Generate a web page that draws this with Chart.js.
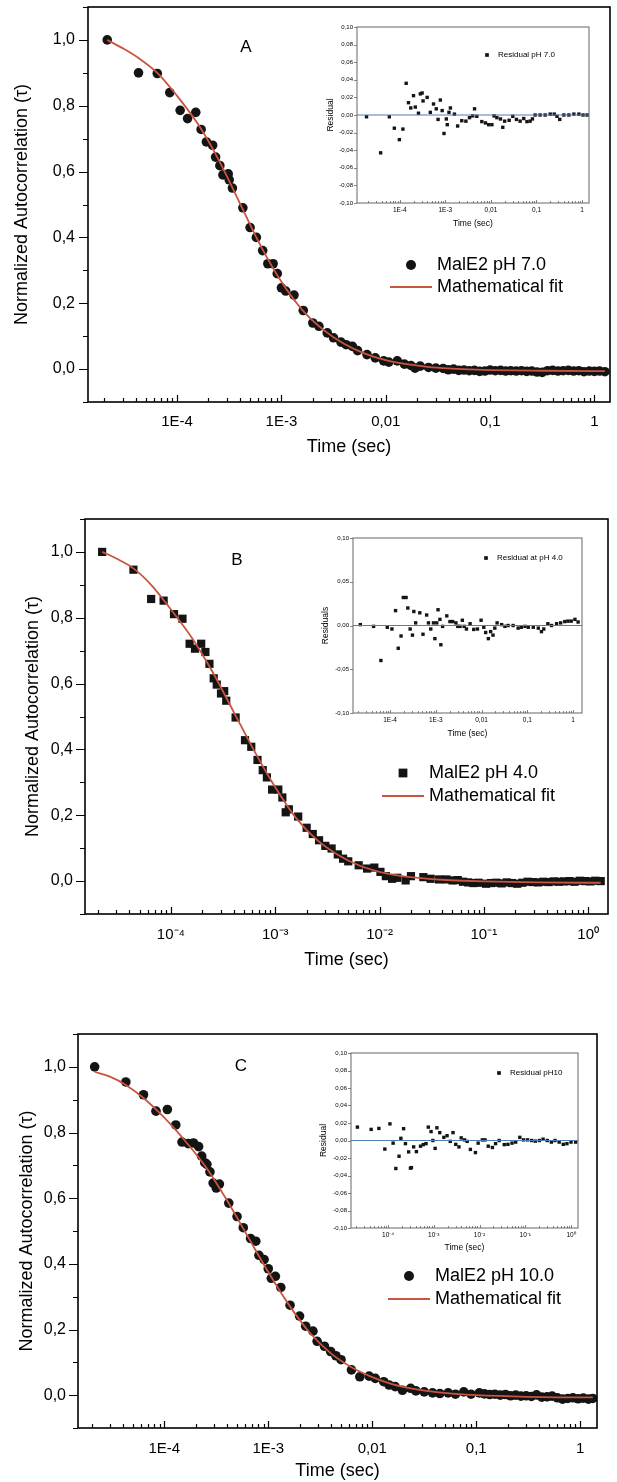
<!DOCTYPE html>
<html>
<head>
<meta charset="utf-8">
<script src="https://cdn.jsdelivr.net/npm/chart.js@4.4.1/dist/chart.umd.min.js"></script>
<style>
  html, body { margin: 0; padding: 0; background: #fff; }
  body { width: 617px; height: 1482px; position: relative; overflow: hidden; }
  canvas { position: absolute; }
</style>
</head>
<body>
<canvas id="mainA"></canvas>
<canvas id="insetA"></canvas>
<canvas id="mainB"></canvas>
<canvas id="insetB"></canvas>
<canvas id="mainC"></canvas>
<canvas id="insetC"></canvas>
<script>
// ========================
//    data
// ========================

// --- A : MalE2 pH 7.0 ---
const timeA = [2.14e-5, 4.27e-5, 6.46e-5, 8.51e-5, 1.07e-4, 1.26e-4, 1.51e-4, 1.70e-4, 1.91e-4, 2.19e-4,
  2.34e-4, 2.57e-4, 2.75e-4, 3.09e-4, 3.16e-4, 3.39e-4, 4.27e-4, 5.01e-4, 5.75e-4, 6.61e-4,
  7.41e-4, 8.32e-4, 9.12e-4, 1.0e-3, 1.10e-3, 1.32e-3, 1.62e-3, 2.0e-3, 2.29e-3, 2.75e-3,
  3.16e-3, 3.72e-3, 4.17e-3, 4.79e-3, 5.37e-3, 6.61e-3, 7.94e-3, 9.55e-3, 1.07e-2, 1.29e-2,
  1.51e-2, 1.74e-2, 1.91e-2, 2.14e-2, 2.57e-2, 3.02e-2, 3.55e-2, 3.98e-2, 4.47e-2, 5.01e-2,
  5.62e-2, 6.31e-2, 7.08e-2, 7.94e-2, 8.91e-2, 0.1, 0.112, 0.126, 0.141, 0.158,
  0.178, 0.2, 0.224, 0.251, 0.282, 0.316, 0.355, 0.398, 0.447, 0.501,
  0.562, 0.631, 0.708, 0.794, 0.891, 1.0, 1.12, 1.26];
const corrA = [1.0, 0.90, 0.898, 0.84, 0.786, 0.761, 0.78, 0.728, 0.69, 0.68,
  0.644, 0.618, 0.59, 0.593, 0.575, 0.55, 0.49, 0.43, 0.40, 0.36,
  0.32, 0.32, 0.29, 0.247, 0.237, 0.225, 0.178, 0.14, 0.13, 0.11,
  0.095, 0.082, 0.074, 0.069, 0.056, 0.044, 0.034, 0.025, 0.021, 0.025,
  0.015, 0.011, 0.003, 0.009, 0.005, 0.003, 0.002, -0.002, 0.0, -0.004,
  -0.003, -0.005, -0.004, -0.007, -0.006, -0.003, -0.005, -0.004, -0.006, -0.005,
  -0.006, -0.005, -0.007, -0.006, -0.009, -0.010, -0.005, -0.004, -0.006, -0.005,
  -0.004, -0.006, -0.005, -0.008, -0.006, -0.007, -0.006, -0.008];
const fitTimeA = [2.14e-5, 3e-5, 4.27e-5, 6.46e-5, 1e-4, 1.58e-4, 2.51e-4, 3.98e-4, 6.31e-4, 1e-3,
  1.58e-3, 2.51e-3, 3.98e-3, 6.31e-3, 1e-2, 1.58e-2, 2.51e-2, 3.98e-2, 6.31e-2, 0.1, 0.316, 1, 1.26];
const fitA = [1.0, 0.975, 0.945, 0.90, 0.83, 0.745, 0.635, 0.505, 0.375, 0.265,
  0.18, 0.12, 0.077, 0.047, 0.027, 0.015, 0.007, 0.002, -0.001, -0.003, -0.005, -0.006, -0.006];
const resTimeA = [1.86e-5, 3.80e-5, 5.89e-5, 7.59e-5, 9.77e-5, 1.17e-4, 1.38e-4, 1.55e-4, 1.74e-4, 2.0e-4,
  2.19e-4, 2.57e-4, 2.82e-4, 3.09e-4, 3.24e-4, 3.98e-4, 4.68e-4, 5.50e-4, 6.31e-4, 6.92e-4,
  7.76e-4, 8.51e-4, 9.33e-4, 1.05e-3, 1.10e-3, 1.20e-3, 1.29e-3, 1.58e-3, 1.86e-3, 2.29e-3,
  2.82e-3, 3.39e-3, 3.98e-3, 4.37e-3, 4.90e-3, 6.31e-3, 7.59e-3, 8.91e-3, 1.05e-2, 1.17e-2,
  1.35e-2, 1.62e-2, 1.82e-2, 2.0e-2, 2.51e-2, 3.02e-2, 3.63e-2, 4.37e-2, 5.25e-2, 6.17e-2,
  7.24e-2, 8.13e-2, 9.33e-2, 0.120, 0.155, 0.200, 0.245, 0.282, 0.324, 0.398,
  0.513, 0.661, 0.851, 1.05, 1.29];
const resA = [-0.002, -0.043, -0.002, -0.015, -0.028, -0.016, 0.036, 0.014, 0.008, 0.022,
  0.009, 0.002, 0.024, 0.025, 0.016, 0.020, 0.003, 0.0125, 0.007, -0.005,
  0.017, 0.005, -0.021, -0.0045, -0.011, 0.003, 0.008, 0.001, -0.0125, -0.0065,
  -0.007, -0.003, -0.001, 0.007, -0.0015, -0.0075, -0.009, -0.011, -0.011, -0.001,
  -0.003, -0.0045, -0.014, -0.007, -0.006, -0.0015, -0.005, -0.007, -0.004, -0.0075,
  -0.007, -0.0045, 0.0, 0.0, 0.0, 0.001, 0.001, -0.0015, -0.005, 0.0,
  0.0, 0.001, 0.001, 0.0, 0.0];

// --- B : MalE2 pH 4.0 ---
const timeB = [2.19e-5, 4.37e-5, 6.46e-5, 8.51e-5, 1.07e-4, 1.29e-4, 1.51e-4, 1.70e-4, 1.95e-4, 2.14e-4,
  2.34e-4, 2.57e-4, 2.75e-4, 3.02e-4, 3.24e-4, 3.39e-4, 4.17e-4, 5.13e-4, 5.89e-4, 6.76e-4,
  7.59e-4, 8.32e-4, 9.33e-4, 1.07e-3, 1.17e-3, 1.26e-3, 1.35e-3, 1.66e-3, 2.0e-3, 2.29e-3,
  2.63e-3, 3.02e-3, 3.47e-3, 3.98e-3, 4.47e-3, 5.01e-3, 6.31e-3, 7.59e-3, 8.91e-3, 1.02e-2,
  1.15e-2, 1.32e-2, 1.48e-2, 1.78e-2, 2.0e-2, 2.63e-2, 3.09e-2, 3.72e-2, 4.37e-2, 5.01e-2,
  5.62e-2, 6.31e-2, 7.08e-2, 7.94e-2, 8.91e-2, 0.105, 0.117, 0.132, 0.148, 0.166,
  0.186, 0.209, 0.234, 0.263, 0.295, 0.331, 0.372, 0.417, 0.468, 0.525,
  0.589, 0.661, 0.741, 0.832, 0.933, 1.05, 1.17, 1.32];
const corrB = [1.0, 0.946, 0.857, 0.852, 0.811, 0.797, 0.721, 0.706, 0.721, 0.696,
  0.66, 0.616, 0.597, 0.57, 0.577, 0.548, 0.497, 0.428, 0.408, 0.368,
  0.337, 0.315, 0.278, 0.278, 0.254, 0.209, 0.218, 0.196, 0.162, 0.143,
  0.124, 0.107, 0.099, 0.081, 0.068, 0.06, 0.048, 0.038, 0.041, 0.028,
  0.015, 0.007, 0.010, 0.002, 0.015, 0.012, 0.007, 0.005, 0.005, 0.002,
  0.003, -0.002, -0.004, -0.006, -0.005, -0.008, -0.006, -0.005, -0.007, -0.004,
  -0.006, -0.008, -0.005, -0.002, -0.003, -0.004, -0.002, -0.003, -0.001, -0.002,
  -0.001, 0.0, -0.002, 0.001, 0.0, -0.001, 0.001, 0.0];
const fitTimeB = [2.19e-5, 3e-5, 4.37e-5, 6.46e-5, 1e-4, 1.58e-4, 2.51e-4, 3.98e-4, 6.31e-4, 1e-3,
  1.58e-3, 2.51e-3, 3.98e-3, 6.31e-3, 1e-2, 1.58e-2, 2.51e-2, 3.98e-2, 6.31e-2, 0.1, 0.316, 1, 1.32];
const fitB = [1.0, 0.98, 0.95, 0.90, 0.825, 0.74, 0.635, 0.515, 0.395, 0.285,
  0.192, 0.125, 0.080, 0.048, 0.028, 0.016, 0.009, 0.004, 0.001, -0.001, -0.004, -0.005, -0.005];
const resTimeB = [2.24e-5, 4.37e-5, 6.31e-5, 8.71e-5, 1.10e-4, 1.32e-4, 1.51e-4, 1.74e-4, 1.95e-4, 2.24e-4,
  2.45e-4, 2.75e-4, 3.09e-4, 3.31e-4, 3.63e-4, 4.47e-4, 5.25e-4, 6.31e-4, 6.92e-4, 7.76e-4,
  8.91e-4, 9.55e-4, 1.05e-3, 1.12e-3, 1.23e-3, 1.29e-3, 1.41e-3, 1.74e-3, 2.04e-3, 2.34e-3,
  2.75e-3, 3.02e-3, 3.39e-3, 3.80e-3, 4.17e-3, 4.68e-3, 5.62e-3, 6.76e-3, 8.13e-3, 9.77e-3,
  1.12e-2, 1.23e-2, 1.41e-2, 1.58e-2, 1.78e-2, 1.95e-2, 2.19e-2, 2.75e-2, 3.24e-2, 3.80e-2,
  4.90e-2, 6.31e-2, 7.41e-2, 8.91e-2, 0.105, 0.135, 0.174, 0.204, 0.229, 0.282,
  0.339, 0.437, 0.537, 0.661, 0.776, 0.912, 1.10, 1.29];
const resB = [0.001, -0.001, -0.04, -0.002, -0.004, 0.017, -0.026, -0.012, 0.032, 0.032,
  0.02, -0.004, -0.011, 0.016, 0.003, 0.0145, -0.01, 0.012, 0.003, -0.004,
  0.003, -0.015, 0.003, 0.018, 0.007, -0.022, -0.001, 0.011, 0.0045, 0.0045,
  0.003, -0.001, -0.001, 0.006, -0.001, -0.004, 0.002, -0.0045, -0.004, 0.006,
  -0.002, -0.008, -0.015, -0.007, -0.011, -0.003, 0.003, 0.001, -0.001, 0.0,
  0.0, -0.003, -0.002, -0.001, -0.002, -0.002, -0.003, -0.007, -0.004, 0.002,
  0.0, 0.002, 0.003, 0.0045, 0.005, 0.005, 0.007, 0.004];

// --- C : MalE2 pH 10.0 ---
const timeC = [2.14e-5, 4.27e-5, 6.31e-5, 8.32e-5, 1.07e-4, 1.29e-4, 1.48e-4, 1.70e-4, 1.91e-4, 2.14e-4,
  2.29e-4, 2.45e-4, 2.57e-4, 2.75e-4, 2.95e-4, 3.16e-4, 3.39e-4, 4.17e-4, 5.01e-4, 5.75e-4,
  6.76e-4, 7.59e-4, 8.13e-4, 9.12e-4, 1.0e-3, 1.07e-3, 1.17e-3, 1.32e-3, 1.62e-3, 2.0e-3,
  2.29e-3, 2.69e-3, 2.95e-3, 3.47e-3, 3.98e-3, 4.47e-3, 5.01e-3, 6.31e-3, 7.59e-3, 9.33e-3,
  1.07e-2, 1.29e-2, 1.45e-2, 1.66e-2, 1.95e-2, 2.34e-2, 2.63e-2, 3.16e-2, 3.80e-2, 4.47e-2,
  5.37e-2, 6.31e-2, 7.59e-2, 8.91e-2, 0.107, 0.120, 0.135, 0.151, 0.170, 0.191,
  0.214, 0.240, 0.269, 0.302, 0.339, 0.380, 0.427, 0.479, 0.537, 0.603,
  0.676, 0.759, 0.851, 0.955, 1.07, 1.20, 1.32];
const corrC = [1.0, 0.954, 0.915, 0.865, 0.87, 0.823, 0.771, 0.766, 0.768, 0.757,
  0.728, 0.708, 0.703, 0.68, 0.646, 0.631, 0.643, 0.585, 0.544, 0.51,
  0.477, 0.469, 0.426, 0.413, 0.385, 0.356, 0.362, 0.328, 0.274, 0.241,
  0.21, 0.195, 0.164, 0.149, 0.133, 0.12, 0.108, 0.077, 0.056, 0.058,
  0.051, 0.041, 0.031, 0.026, 0.015, 0.021, 0.013, 0.010, 0.007, 0.005,
  0.007, 0.003, 0.010, 0.003, 0.007, 0.004, 0.002, 0.003, 0.0, 0.002,
  -0.002, 0.0, -0.003, -0.002, -0.004, 0.001, -0.006, -0.005, -0.003, -0.008,
  -0.012, -0.010, -0.008, -0.011, -0.009, -0.012, -0.010];
const fitTimeC = [2.14e-5, 3e-5, 4.27e-5, 6.31e-5, 1e-4, 1.58e-4, 2.51e-4, 3.98e-4, 6.31e-4, 1e-3,
  1.58e-3, 2.51e-3, 3.98e-3, 6.31e-3, 1e-2, 1.58e-2, 2.51e-2, 3.98e-2, 6.31e-2, 0.1, 0.316, 1, 1.32];
const fitC = [0.985, 0.97, 0.945, 0.905, 0.845, 0.775, 0.695, 0.595, 0.485, 0.375,
  0.275, 0.19, 0.128, 0.085, 0.055, 0.033, 0.019, 0.010, 0.004, 0.0, -0.005, -0.007, -0.007];
const resTimeC = [2.14e-5, 4.27e-5, 6.31e-5, 8.51e-5, 1.10e-4, 1.29e-4, 1.48e-4, 1.74e-4, 1.91e-4, 2.19e-4,
  2.40e-4, 2.82e-4, 3.09e-4, 3.24e-4, 3.63e-4, 4.17e-4, 5.13e-4, 5.89e-4, 6.76e-4, 7.59e-4,
  8.71e-4, 9.55e-4, 1.07e-3, 1.17e-3, 1.35e-3, 1.66e-3, 1.95e-3, 2.29e-3, 2.63e-3, 3.02e-3,
  3.55e-3, 3.98e-3, 4.68e-3, 5.37e-3, 6.31e-3, 8.13e-3, 9.33e-3, 1.15e-2, 1.32e-2, 1.55e-2,
  1.91e-2, 2.24e-2, 2.69e-2, 3.47e-2, 4.17e-2, 5.13e-2, 6.17e-2, 7.59e-2, 9.12e-2, 0.112,
  0.138, 0.166, 0.204, 0.245, 0.302, 0.372, 0.447, 0.550, 0.676, 0.813,
  1.0, 1.26];
const resC = [0.0153, 0.0127, 0.0138, -0.0098, 0.019, -0.003, -0.032, -0.018, 0.0025, 0.0135,
  -0.0036, -0.013, -0.0316, -0.031, -0.0073, -0.0127, -0.0065, -0.0047, -0.0036, 0.0153,
  0.0102, 0.0, -0.009, 0.0145, 0.009, 0.0036, 0.0055, -0.001, 0.009, -0.0044,
  -0.0073, 0.003, 0.0007, -0.001, -0.0102, -0.0138, -0.003, 0.0007, 0.0007, -0.0065,
  -0.008, -0.0036, 0.0, -0.0047, -0.0044, -0.003, -0.0018, 0.0036, 0.0007, 0.0007,
  0.0, -0.0007, 0.0, 0.0015, 0.0, -0.0018, 0.0, -0.0018, -0.0044, -0.0036,
  -0.0018, -0.0018];

// --- ticks ---
const corrTickValues = [0, 0.2, 0.4, 0.6, 0.8, 1.0];
const corrTickLabels = ['0,0', '0,2', '0,4', '0,6', '0,8', '1,0'];
const timeDecades = [1e-4, 1e-3, 1e-2, 1e-1, 1];
const timeLabelsE = ['1E-4', '1E-3', '0,01', '0,1', '1'];
const timeLabelsPow = ['10⁻⁴', '10⁻³', '10⁻²', '10⁻¹', '10⁰'];
const resTickValues = [-0.10, -0.08, -0.06, -0.04, -0.02, 0, 0.02, 0.04, 0.06, 0.08, 0.10];
const resTickLabels = ['-0,10', '-0,08', '-0,06', '-0,04', '-0,02', '0,00', '0,02', '0,04', '0,06', '0,08', '0,10'];
const resTickValuesB = [-0.10, -0.05, 0, 0.05, 0.10];
const resTickLabelsB = ['-0,10', '-0,05', '0,00', '0,05', '0,10'];

// =========================
//   helpers
// =========================
const FONT = "'Liberation Sans', Arial, sans-serif";
const RED = '#c9553f';
const INK = '#141414';

const toPoints = (xs, ys) => xs.map((x, i) => ({ x, y: ys[i] }));

function labelFrom(values, labels) {
  return v => {
    const i = values.findIndex(t => Math.abs(t - v) <= Math.abs(t) * 1e-6 + 1e-9);
    return i < 0 ? '' : labels[i];
  };
}

// 1..9 x 10^k between min and max
function logTicks(scale) {
  const out = [];
  const k0 = Math.floor(Math.log10(scale.min));
  const k1 = Math.floor(Math.log10(scale.max));
  for (let k = k0; k <= k1; k++) {
    for (let n = 1; n < 10; n++) {
      const v = Number((n * Math.pow(10, k)).toPrecision(6));
      if (v >= scale.min && v <= scale.max) out.push({ value: v });
    }
  }
  scale.ticks = out;
}

// fixed axis box, and no extra room for half labels at the ends
function fixBox(size, horizontal) {
  return s => {
    if (horizontal) s.height = size; else s.width = size;
    s.paddingTop = 0; s.paddingBottom = 0; s.paddingLeft = 0; s.paddingRight = 0;
  };
}

function place(cv, b) {
  cv.width = b.w; cv.height = b.h;
  cv.style.left = b.left + 'px'; cv.style.top = b.top + 'px';
  cv.style.width = b.w + 'px'; cv.style.height = b.h + 'px';
}

// frame, tick marks (x inward, y outward), zero line for residuals
const frameTicks = {
  id: 'frameTicks',
  afterDraw(chart, args, o) {
    const { ctx, chartArea: a, scales } = chart;
    ctx.save();
    if (o.zero) {
      const y0 = scales.y.getPixelForValue(0);
      ctx.strokeStyle = o.zero; ctx.lineWidth = 1;
      ctx.beginPath(); ctx.moveTo(a.left, y0); ctx.lineTo(a.right, y0); ctx.stroke();
    }
    ctx.strokeStyle = o.color;
    ctx.lineWidth = o.width;
    ctx.strokeRect(a.left, a.top, a.right - a.left, a.bottom - a.top);
    ctx.lineWidth = o.tickWidth;
    ctx.beginPath();
    scales.x.ticks.forEach(t => {
      const px = Math.round(scales.x.getPixelForValue(t.value)) + 0.5;
      const len = t.label ? o.major : o.minor;
      ctx.moveTo(px, a.bottom); ctx.lineTo(px, a.bottom - len);
    });
    scales.y.ticks.forEach(t => {
      const py = Math.round(scales.y.getPixelForValue(t.value)) + 0.5;
      const len = t.label ? o.yMajor : o.yMinor;
      ctx.moveTo(a.left, py); ctx.lineTo(a.left - len, py);
    });
    ctx.stroke();
    ctx.restore();
  }
};

// legend rows + panel letter
const keyBox = {
  id: 'keyBox',
  afterDraw(chart, args, o) {
    const ctx = chart.ctx;
    ctx.save();
    ctx.font = o.font;
    ctx.textBaseline = 'middle';
    o.rows.forEach((di, i) => {
      const ds = chart.data.datasets[di];
      const y = o.y + i * o.gap;
      if (ds.showLine) {
        ctx.strokeStyle = ds.borderColor; ctx.lineWidth = ds.borderWidth;
        ctx.beginPath(); ctx.moveTo(o.x - o.half, y); ctx.lineTo(o.x + o.half, y); ctx.stroke();
      } else {
        ctx.fillStyle = ds.backgroundColor;
        const r = o.markR || ds.pointRadius;
        if (ds.pointStyle === 'rect') {
          const s = r * Math.SQRT2;
          ctx.fillRect(o.x - s / 2, y - s / 2, s, s);
        } else {
          ctx.beginPath(); ctx.arc(o.x, y, r, 0, Math.PI * 2); ctx.fill();
        }
      }
      ctx.fillStyle = '#000';
      ctx.fillText(ds.label, o.x + o.dx, y);
    });
    if (o.letter) {
      ctx.font = o.letterFont;
      ctx.textAlign = 'center';
      ctx.fillText(o.letter, o.lx, o.ly);
    }
    ctx.restore();
  }
};

// =========================
//   main autocorrelation panel
// =========================
function mainChart(id, b, d) {
  const cv = document.getElementById(id);
  place(cv, b);
  return new Chart(cv, {
    type: 'scatter',
    data: {
      datasets: [
        { label: 'Mathematical fit', data: toPoints(d.fitT, d.fitY), showLine: true,
          borderColor: RED, borderWidth: 1.8, pointRadius: 0, cubicInterpolationMode: 'monotone', order: 1 },
        { label: d.label, data: toPoints(d.t, d.y), pointStyle: d.style, pointRadius: d.r,
          backgroundColor: INK, borderWidth: 0, order: 2 }
      ]
    },
    options: {
      responsive: false, animation: false, events: [],
      layout: { padding: { top: b.padTop, right: b.padRight, left: 0, bottom: 0 } },
      plugins: {
        legend: { display: false }, tooltip: { enabled: false },
        frameTicks: { color: '#000', width: 1.6, tickWidth: 1.2, major: 7, minor: 4, yMajor: 9, yMinor: 5 },
        keyBox: { rows: [1, 0], x: b.keyX, y: b.keyY, gap: b.keyGap, dx: 26, half: 21, markR: d.keyR,
          font: '18px ' + FONT, letter: d.letter, lx: b.lx, ly: b.ly, letterFont: '17px ' + FONT }
      },
      scales: {
        x: {
          type: 'logarithmic', min: d.xmin, max: d.xmax,
          afterBuildTicks: logTicks,
          afterFit: fixBox(b.xH, true),
          grid: { display: false, drawTicks: false }, border: { display: false },
          ticks: { callback: labelFrom(timeDecades, d.xLabels), autoSkip: false, maxRotation: 0,
            padding: b.xTickPad, color: '#000', font: { family: FONT, size: 15 } },
          title: { display: true, text: 'Time (sec)', color: '#000',
            font: { family: FONT, size: 18 }, padding: { top: 0, bottom: b.xTitlePad } }
        },
        y: {
          min: -0.1, max: 1.1,
          afterFit: fixBox(b.yW, false),
          grid: { display: false, drawTicks: false }, border: { display: false },
          ticks: { stepSize: 0.1, callback: labelFrom(corrTickValues, corrTickLabels), autoSkip: false,
            padding: b.yTickPad, color: '#000', font: { family: FONT, size: 16 } },
          title: { display: true, text: 'Normalized Autocorrelation (τ)', color: '#000',
            font: { family: FONT, size: 18 }, padding: { top: b.yTitlePad, bottom: 0 } }
        }
      }
    },
    plugins: [frameTicks, keyBox]
  });
}

// =========================
//   residual inset
// =========================
function insetChart(id, b, d) {
  const cv = document.getElementById(id);
  place(cv, b);
  return new Chart(cv, {
    type: 'scatter',
    data: {
      datasets: [
        { label: d.label, data: toPoints(d.t, d.y), pointStyle: 'rect', pointRadius: 2.4,
          backgroundColor: INK, borderWidth: 0 }
      ]
    },
    options: {
      responsive: false, animation: false, events: [],
      layout: { padding: { top: b.padTop, right: b.padRight, left: 0, bottom: 0 } },
      plugins: {
        legend: { display: false }, tooltip: { enabled: false },
        frameTicks: { color: '#666', width: 1, tickWidth: 0.8, major: 3, minor: 2, yMajor: 3, yMinor: 2,
          zero: '#4d80b6' },
        keyBox: { rows: [0], x: b.keyX, y: b.keyY, gap: 0, dx: 11, half: 0, markR: 2.6,
          font: '8px ' + FONT }
      },
      scales: {
        x: {
          type: 'logarithmic', min: d.xmin, max: d.xmax,
          afterBuildTicks: logTicks,
          afterFit: fixBox(b.xH, true),
          grid: { display: false, drawTicks: false }, border: { display: false },
          ticks: { callback: labelFrom(timeDecades, d.xLabels), autoSkip: false, maxRotation: 0,
            padding: b.xTickPad, color: '#000', font: { family: FONT, size: 6.5 } },
          title: { display: true, text: 'Time (sec)', color: '#000',
            font: { family: FONT, size: 8.5 }, padding: { top: 0, bottom: b.xTitlePad } }
        },
        y: {
          min: -0.1, max: 0.1,
          afterBuildTicks: s => { s.ticks = d.yTicks.map(v => ({ value: v })); },
          afterFit: fixBox(b.yW, false),
          grid: { display: false, drawTicks: false }, border: { display: false },
          ticks: { callback: labelFrom(d.yTicks, d.yLabels), autoSkip: false,
            padding: 4, color: '#000', font: { family: FONT, size: 6 } },
          title: { display: true, text: d.yTitle, color: '#000',
            font: { family: FONT, size: 8.5 }, padding: { top: b.yTitlePad, bottom: 0 } }
        }
      }
    },
    plugins: [frameTicks, keyBox]
  });
}

// =========================
//   build the three panels
// =========================
mainChart('mainA',
  { left: 0, top: 0, w: 617, h: 465, padTop: 7, padRight: 7, yW: 88, xH: 63,
    yTitlePad: 11, yTickPad: 13, xTickPad: 11, xTitlePad: 7,
    keyX: 411, keyY: 265, keyGap: 22, lx: 246, ly: 47 },
  { label: 'MalE2 pH 7.0', t: timeA, y: corrA, fitT: fitTimeA, fitY: fitA, style: 'circle', r: 4.8, keyR: 5,
    xmin: 1.4e-5, xmax: 1.41, xLabels: timeLabelsE, letter: 'A' });
insetChart('insetA',
  { left: 320, top: 20, w: 275, h: 215, padTop: 7, padRight: 6, yW: 37, xH: 32,
    yTitlePad: 6, xTickPad: 3, xTitlePad: 6, keyX: 167, keyY: 35 },
  { label: 'Residual pH 7.0', t: resTimeA, y: resA, xmin: 1.15e-5, xmax: 1.42,
    xLabels: timeLabelsE, yTicks: resTickValues, yLabels: resTickLabels, yTitle: 'Residual' });

mainChart('mainB',
  { left: 0, top: 480, w: 617, h: 500, padTop: 39, padRight: 9, yW: 85, xH: 66,
    yTitlePad: 22, yTickPad: 12, xTickPad: 12, xTitlePad: 9,
    keyX: 403, keyY: 293, keyGap: 23, lx: 237, ly: 80 },
  { label: 'MalE2 pH 4.0', t: timeB, y: corrB, fitT: fitTimeB, fitY: fitB, style: 'rect', r: 5.8, keyR: 6.2,
    xmin: 1.5e-5, xmax: 1.55, xLabels: timeLabelsPow, letter: 'B' });
insetChart('insetB',
  { left: 318, top: 530, w: 270, h: 215, padTop: 8, padRight: 6, yW: 35, xH: 32,
    yTitlePad: 3, xTickPad: 3, xTitlePad: 6, keyX: 168, keyY: 28 },
  { label: 'Residual at pH 4.0', t: resTimeB, y: resB, xmin: 1.55e-5, xmax: 1.57,
    xLabels: timeLabelsE, yTicks: resTickValuesB, yLabels: resTickLabelsB, yTitle: 'Residuals' });

mainChart('mainC',
  { left: 0, top: 1000, w: 617, h: 482, padTop: 34, padRight: 20, yW: 78, xH: 54,
    yTitlePad: 16, yTickPad: 12, xTickPad: 12, xTitlePad: 0,
    keyX: 409, keyY: 276, keyGap: 23, lx: 241, ly: 66 },
  { label: 'MalE2 pH 10.0', t: timeC, y: corrC, fitT: fitTimeC, fitY: fitC, style: 'circle', r: 4.8, keyR: 5,
    xmin: 1.48e-5, xmax: 1.45, xLabels: timeLabelsE, letter: 'C' });
insetChart('insetC',
  { left: 316, top: 1045, w: 268, h: 215, padTop: 8, padRight: 6, yW: 35, xH: 32,
    yTitlePad: 3, xTickPad: 3, xTitlePad: 7, keyX: 183, keyY: 28 },
  { label: 'Residual pH10', t: resTimeC, y: resC, xmin: 1.55e-5, xmax: 1.42,
    xLabels: timeLabelsPow, yTicks: resTickValues, yLabels: resTickLabels, yTitle: 'Residual' });
</script>
</body>
</html>
